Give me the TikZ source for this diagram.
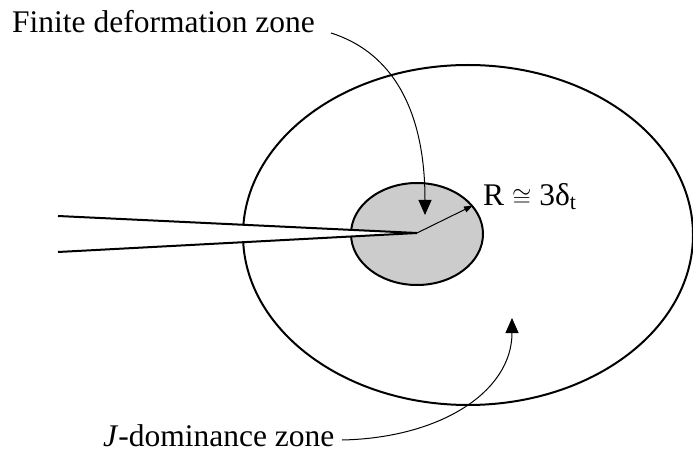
\documentclass[tikz,border=0pt]{standalone}
\usepackage{fontspec}
\setmainfont{Liberation Serif}
\usetikzlibrary{shapes.geometric,arrows.meta}
\definecolor{zonegray}{RGB}{204,204,204}
\begin{document}
\begin{tikzpicture}[x=1pt,y=-1pt,
  lbl/.style={font=\fontsize{31.5}{36}\selectfont, inner sep=0pt},
  zone/.style={ellipse, draw, line width=2pt, inner sep=0pt},
  crackline/.style={line width=2pt, line join=miter},
  pointer/.style={line width=1pt, -{Triangle[length=15pt,width=13pt]}},
  radius/.style={line width=1pt, -{Triangle[length=9pt,width=6pt]}}]
\useasboundingbox (0,0) rectangle (693,454);
% zones
\node[zone, minimum width=450pt, minimum height=340pt] (jzone) at (468,235) {};
\node[zone, fill=zonegray, minimum width=132pt, minimum height=102pt] (fzone) at (417,234) {};
% crack
\coordinate (tip) at (417,233);
\coordinate (crackA) at (58,216);
\coordinate (crackB) at (58,252);
\fill[white] (crackA) -- (tip) -- (crackB) -- cycle;
\draw[crackline] (crackA) -- (tip) -- (crackB);
% radius
\draw[radius] (tip) -- (fzone.27);
\node[lbl, anchor=base west] (rlbl) at (483,206) {R $\cong$ 3δ\textsubscript{t}};
% labels
\node[lbl, anchor=base west] (flbl) at (12,33) {Finite deformation zone};
\node[lbl, anchor=base west] (jlbl) at (103,446) {\textit{J}-dominance zone};
% pointers
\coordinate (fstart) at (331,33);
\coordinate (fend) at (425,215);
\coordinate (jstart) at (342,440);
\coordinate (jend) at (512,318);
\draw[pointer] (fstart) .. controls (385,50) and (425,100) .. (fend);
\draw[pointer] (jstart) .. controls (440,438) and (512,392) .. (jend);
\end{tikzpicture}
\end{document}
